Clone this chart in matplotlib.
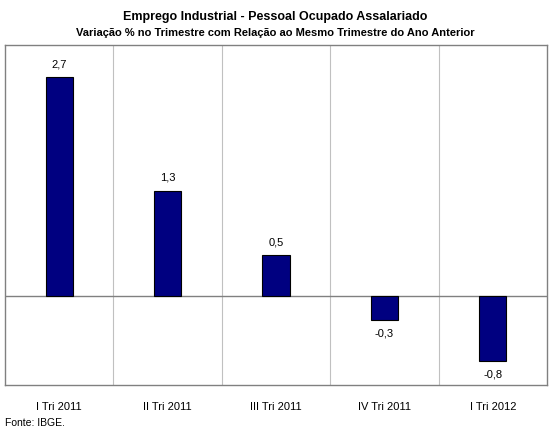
import matplotlib
matplotlib.use("Agg")
import matplotlib.pyplot as plt

categories = ["I Tri 2011", "II Tri 2011", "III Tri 2011", "IV Tri 2011", "I Tri 2012"]
values = [2.7, 1.3, 0.5, -0.3, -0.8]
labels = ["2,7", "1,3", "0,5", "-0,3", "-0,8"]

plt.rcParams['font.family'] = ['Liberation Sans', 'DejaVu Sans']

fig = plt.figure(figsize=(5.5, 4.4), dpi=100)
ax = fig.add_axes([5/550, 55/440, 542/550, 340/440])

x = list(range(len(categories)))
ax.bar(x, values, width=0.25, color="#000080", edgecolor="black", linewidth=0.8, zorder=3)
ax.set_xlim(-0.5, len(categories) - 0.5)
ax.set_ylim(-1.1, 3.1)
for i in range(1, len(categories)):
    ax.axvline(i - 0.5, color="#c0c0c0", linewidth=0.8, zorder=1)
ax.axhline(0, color="#808080", linewidth=1.0, zorder=2)

for xi, v, lab in zip(x, values, labels):
    if v >= 0:
        ax.annotate(lab, (xi, v), xytext=(0, 6), textcoords="offset points",
                    ha="center", va="bottom", fontsize=8)
    else:
        ax.annotate(lab, (xi, v), xytext=(0, -6), textcoords="offset points",
                    ha="center", va="top", fontsize=8)

ax.set_yticks([])
ax.set_xticks(x)
ax.set_xticklabels(categories, fontsize=8)
ax.tick_params(axis="x", length=0, pad=12)
for s in ax.spines.values():
    s.set_color("#808080")
    s.set_linewidth(1.0)

fig.text(0.5, 1 - 17/440, "Emprego Industrial - Pessoal Ocupado Assalariado",
         ha="center", va="center", fontsize=9, fontweight="bold")
fig.text(0.5, 1 - 33/440, "Variação % no Trimestre com Relação ao Mesmo Trimestre do Ano Anterior",
         ha="center", va="center", fontsize=8, fontweight="bold")
fig.text(5/550, 1 - 423/440, "Fonte: IBGE.", ha="left", va="center", fontsize=7.5)

fig.savefig("out.png", dpi=100, facecolor="white")
